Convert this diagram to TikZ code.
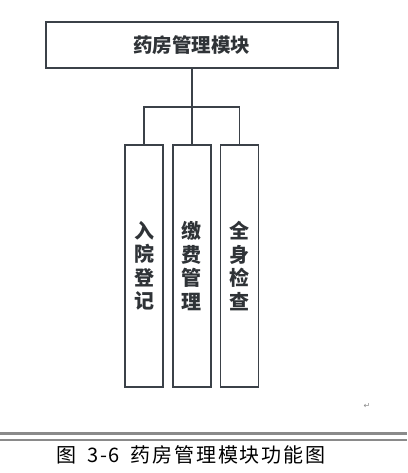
\documentclass[tikz,border=0pt]{standalone}
\usepackage{fontspec}
\newfontfamily\cjk{Noto Sans CJK SC}
\newfontfamily\capfont{Noto Sans CJK SC}[LetterSpace=9]
\newfontfamily\symfont{DejaVu Sans}
\usetikzlibrary{positioning}
\definecolor{boxline}{HTML}{3B4148}
\definecolor{boxtext}{HTML}{2F3337}
\definecolor{ruleline}{HTML}{8A8A8A}

\begin{document}
\begin{tikzpicture}[x=1pt,y=-1pt,
  mainbox/.style={rectangle,draw=boxline,line width=1.8pt,minimum width=292pt,minimum height=46pt,inner sep=0pt,text=boxtext,font=\cjk\bfseries\fontsize{19.5}{19.5}\selectfont},
  subbox/.style={rectangle,draw=boxline,line width=1.8pt,minimum width=38pt,minimum height=242pt,inner sep=0pt,align=center,text=boxtext,font=\cjk\bfseries\fontsize{20}{23.5}\selectfont},
  link/.style={draw=boxline,line width=1.8pt}]
\fill[white] (0,0) rectangle (407,473);
\useasboundingbox (0,0) rectangle (407,473);

\node(A) at (191.8,45) [mainbox]{药房管理模块};
\node(B) at (144.2,266) [subbox]{入\\院\\登\\记};
\node(C) at (191.8,266) [subbox]{缴\\费\\管\\理};
\node(D) at (239.5,266) [subbox]{全\\身\\检\\查};
\coordinate(J) at (191.8,107);

\draw[link] (A.south) -- (C.north);
\draw[link] (B.north) |- (J) -| (D.north);

%\node(R) at (367,406) {};
\node(R) at (367,406) [text=ruleline,font=\symfont\fontsize{8}{8}\selectfont,inner sep=0pt]{↵};
\draw[ruleline,line width=2.5pt] (0,433.5) -- (407,433.5);
\draw[ruleline,line width=2pt] (0,439.5) -- (407,439.5);
\node(T) at (56,454.5) [anchor=west,inner sep=0pt,font=\capfont\fontsize{20}{20}\selectfont]{图\hspace{11pt}3-6\hspace{11pt}药房管理模块功能图};
\end{tikzpicture}
\end{document}
